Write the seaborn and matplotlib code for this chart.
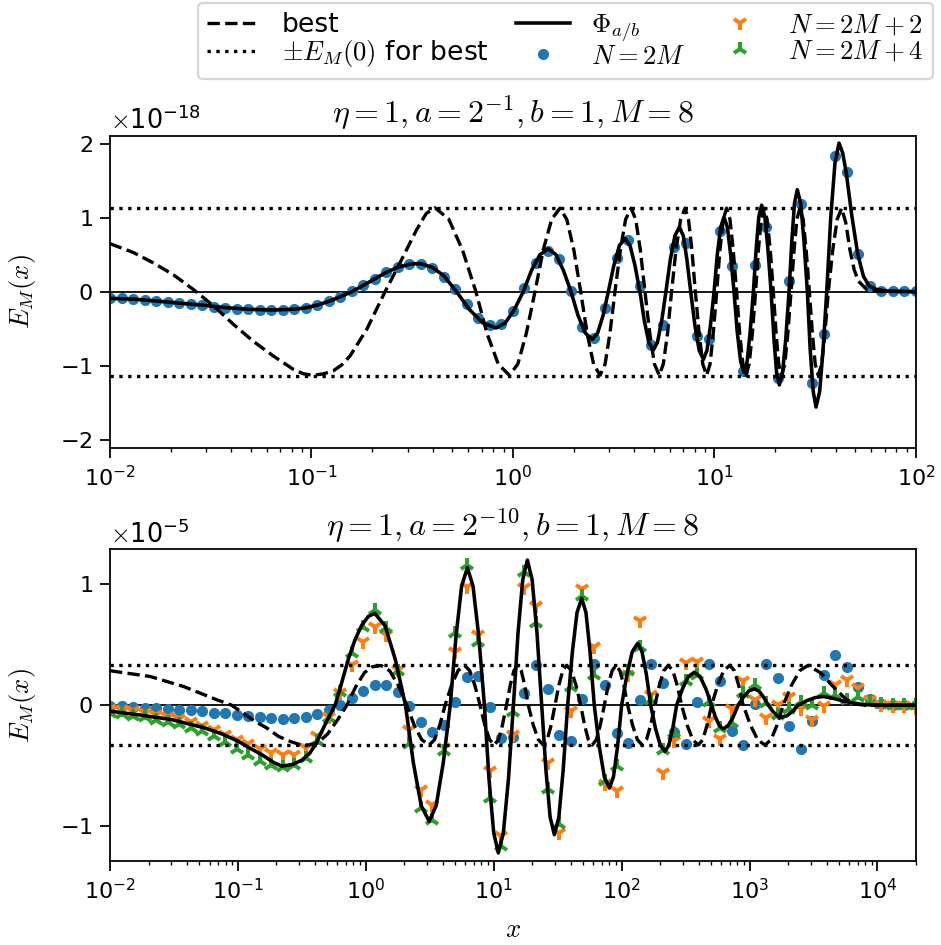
import numpy as np
import matplotlib
matplotlib.use("Agg")
import matplotlib.pyplot as plt
from matplotlib.ticker import NullFormatter
import seaborn as sns

plt.rcParams['mathtext.fontset'] = 'cm'
plt.rcParams['font.family'] = ['DejaVu Sans']
plt.rcParams['xtick.labelsize'] = 10
plt.rcParams['ytick.labelsize'] = 10
plt.rcParams['xtick.major.size'] = 4.3
plt.rcParams['ytick.major.size'] = 4.3
plt.rcParams['axes.labelsize'] = 12
plt.rcParams['axes.titlesize'] = 14.4

# ── Data ──────────────────────────────────────────────────────────────────────
# y values are in units of the axis offset (1e-18 top, 1e-5 bottom);
# curves are given as (log10 x, y) pairs.

TOP_SCALE = 1e-18
BOT_SCALE = 1e-5

top_grid = np.logspace(-2, 2, 71)
bot_grid = np.logspace(-2, np.log10(2e4), 71)

top_em0 = 1.135
bot_em0 = 0.331

top_n2m = [-0.090, -0.090, -0.104, -0.113, -0.131, -0.144, -0.158, -0.167, -0.180, -0.203,
           -0.221, -0.230, -0.239, -0.243, -0.248, -0.243, -0.234, -0.221, -0.176, -0.131,
           -0.068, 0.005, 0.086, 0.176, 0.266, 0.338, 0.374, 0.374, 0.324, 0.203,
           0.032, -0.162, -0.351, -0.450, -0.441, -0.266, 0.050, 0.387, 0.554, 0.437,
           0.014, -0.473, -0.626, -0.216, 0.459, 0.698, 0.077, -0.716, -0.455, 0.604,
           0.653, -0.599, -0.635, 0.815, 0.351, -1.072, 0.365, 0.869, -1.167, 0.149,
           1.185, -1.239, -0.572, 1.838, 1.617, 0.509, 0.077, 0.014, 0.010, 0.010, 0.010]

top_phi_lx = [-2.0, -1.886, -1.771, -1.657, -1.543, -1.429, -1.314, -1.2, -1.086, -1.029,
              -0.971, -0.914, -0.857, -0.8, -0.743, -0.686, -0.629, -0.571, -0.514, -0.486,
              -0.457, -0.4, -0.343,
              -0.280, -0.215, -0.149, -0.084, -0.039, 0.006, 0.051,
              0.092, 0.134, 0.175, 0.213, 0.250, 0.288,
              0.323, 0.359, 0.394, 0.420, 0.447, 0.473,
              0.501, 0.528, 0.556, 0.581, 0.605, 0.630,
              0.652, 0.674, 0.696, 0.717, 0.738, 0.759,
              0.781, 0.804, 0.826, 0.845, 0.863, 0.882,
              0.903, 0.924, 0.945, 0.963, 0.980, 0.998,
              1.014, 1.031, 1.047, 1.064, 1.080, 1.097,
              1.113, 1.130, 1.146, 1.162, 1.177, 1.193,
              1.207, 1.220, 1.234, 1.250, 1.265, 1.281,
              1.295, 1.308, 1.322, 1.338, 1.354, 1.370,
              1.384, 1.397, 1.411, 1.428, 1.444, 1.461,
              1.475, 1.490, 1.504, 1.522, 1.539, 1.557,
              1.577, 1.598, 1.618, 1.636, 1.654, 1.682, 1.711, 1.739, 1.768, 1.805,
              1.855, 2.0]
top_phi_y = [-0.09, -0.10, -0.125, -0.155, -0.18, -0.215, -0.237, -0.248, -0.236, -0.218,
             -0.18, -0.13, -0.068, 0.0, 0.085, 0.175, 0.262, 0.33, 0.37, 0.38,
             0.378, 0.33, 0.215,
             0.0, -0.245, -0.424, -0.49, -0.424, -0.245, 0.0,
             0.29, 0.502, 0.58, 0.502, 0.29, 0.0,
             -0.3225, -0.559, -0.645, -0.559, -0.3225, 0.0,
             0.36, 0.624, 0.72, 0.624, 0.36, 0.0,
             -0.395, -0.684, -0.79, -0.684, -0.395, 0.0,
             0.4375, 0.758, 0.875, 0.758, 0.4375, 0.0,
             -0.4575, -0.792, -0.915, -0.792, -0.4575, 0.0,
             0.505, 0.875, 1.01, 0.875, 0.505, 0.0,
             -0.545, -0.944, -1.09, -0.944, -0.545, 0.0,
             0.585, 1.013, 1.17, 1.013, 0.585, 0.0,
             -0.63, -1.091, -1.26, -1.091, -0.63, 0.0,
             0.69, 1.195, 1.38, 1.195, 0.69, 0.0,
             -0.78, -1.351, -1.56, -1.351, -0.78, 0.0,
             1.005, 1.741, 2.01, 1.88, 1.61, 1.02, 0.51, 0.21, 0.077, 0.03,
             0.01, 0.0]

top_best_lx = [-2.0, -1.884, -1.785, -1.686, -1.586, -1.487, -1.388, -1.289, -1.189, -1.090,
               -1.04, -0.991, -0.94, -0.892, -0.85, -0.809, -0.726, -0.635, -0.561, -0.478,
               -0.43, -0.387,
               -0.319, -0.251, -0.184,
               -0.129, -0.073, -0.018, 0.024, 0.066, 0.109,
               0.150, 0.192, 0.233, 0.267, 0.302, 0.336,
               0.368, 0.400, 0.432, 0.457, 0.481, 0.506,
               0.533, 0.559, 0.586, 0.609, 0.632, 0.655,
               0.679, 0.702, 0.726, 0.746, 0.767, 0.787,
               0.809, 0.832, 0.854, 0.871, 0.888, 0.905,
               0.924, 0.942, 0.961, 0.978, 0.994, 1.011,
               1.027, 1.044, 1.060, 1.077, 1.093, 1.110,
               1.125, 1.141, 1.156, 1.172, 1.188, 1.204,
               1.218, 1.232, 1.246, 1.261, 1.277, 1.292,
               1.306, 1.319, 1.333, 1.349, 1.364, 1.380,
               1.395, 1.409, 1.424, 1.440, 1.455, 1.471,
               1.486, 1.500, 1.515, 1.532, 1.548, 1.565,
               1.587, 1.609, 1.631, 1.652, 1.672, 1.693, 1.714, 1.755, 1.8, 2.0]
top_best_y = [0.65, 0.53, 0.39, 0.23, 0.03, -0.19, -0.44, -0.67, -0.87, -1.05,
              -1.11, -1.13, -1.11, -1.07, -0.99, -0.87, -0.51, 0.0, 0.39, 0.84,
              1.06, 1.135,
              0.983, 0.567, 0.0,
              -0.565, -0.979, -1.13, -0.979, -0.565, 0.0,
              0.565, 0.979, 1.13, 0.979, 0.565, 0.0,
              -0.565, -0.979, -1.13, -0.979, -0.565, 0.0,
              0.565, 0.979, 1.13, 0.979, 0.565, 0.0,
              -0.565, -0.979, -1.13, -0.979, -0.565, 0.0,
              0.565, 0.979, 1.13, 0.979, 0.565, 0.0,
              -0.565, -0.979, -1.13, -0.979, -0.565, 0.0,
              0.565, 0.979, 1.13, 0.979, 0.565, 0.0,
              -0.565, -0.979, -1.13, -0.979, -0.565, 0.0,
              0.565, 0.979, 1.13, 0.979, 0.565, 0.0,
              -0.565, -0.979, -1.13, -0.979, -0.565, 0.0,
              0.565, 0.979, 1.13, 0.979, 0.565, 0.0,
              -0.565, -0.979, -1.13, -0.979, -0.565, 0.0,
              0.565, 0.979, 1.13, 0.93, 0.57, 0.30, 0.144, 0.03, 0.005, 0.0]

bot_n2m = [-0.006, -0.011, -0.017, -0.022, -0.025, -0.030, -0.036, -0.041, -0.050, -0.061,
           -0.069, -0.083, -0.091, -0.099, -0.107, -0.113, -0.110, -0.100, -0.074, -0.039,
           0.000, 0.061, 0.121, 0.163, 0.165, 0.107, -0.008, -0.143, -0.223, -0.165,
           0.030, 0.229, 0.242, -0.014, -0.273, -0.262, 0.099, 0.333, 0.135, -0.245,
           -0.300, 0.052, 0.344, 0.168, -0.234, -0.311, 0.041, 0.344, 0.182, -0.226,
           -0.320, 0.030, 0.342, 0.196, -0.218, -0.328, 0.008, 0.339, 0.223, -0.176,
           -0.361, -0.129, 0.251, 0.416, 0.320, 0.154, 0.052, 0.008, 0.0, 0.0, 0.0]

bot_n2m2 = [-0.030, -0.044, -0.052, -0.066, -0.080, -0.099, -0.116, -0.140, -0.171, -0.207,
            -0.245, -0.287, -0.322, -0.361, -0.397, -0.410, -0.410, -0.355, -0.259, -0.100,
            0.099, 0.333, 0.526, 0.650, 0.580, 0.292, -0.204, -0.700, -0.824, -0.355,
            0.444, 0.980, 0.580, -0.548, -1.085, -0.245, 0.970, 0.820, -0.480, -1.060,
            -0.050, 0.960, 0.480, -0.650, -0.710, 0.250, 0.700, 0.080, -0.560, -0.300,
            0.350, 0.360, -0.130, -0.280, -0.030, 0.200, 0.040, -0.110, 0.000, 0.070,
            -0.030, -0.120, -0.010, 0.170, 0.210, 0.140, 0.040, 0.000, -0.010, -0.010, -0.020]

bot_n2m4 = [-0.066, -0.074, -0.088, -0.102, -0.121, -0.138, -0.157, -0.185, -0.218, -0.259,
            -0.306, -0.361, -0.410, -0.460, -0.493, -0.512, -0.499, -0.438, -0.300, -0.107,
            0.113, 0.430, 0.650, 0.790, 0.636, 0.284, -0.322, -0.850, -0.950, -0.383,
            0.595, 1.160, 0.526, -0.770, -1.170, -0.060, 1.100, 0.680, -0.690, -0.980,
            0.150, 0.900, 0.250, -0.630, -0.500, 0.280, 0.480, 0.040, -0.370, -0.230,
            0.200, 0.250, 0.030, -0.190, -0.150, 0.100, 0.170, 0.020, -0.080, -0.030,
            0.030, 0.000, 0.100, 0.080, 0.040, 0.070, 0.030, 0.010, 0.0, 0.0, 0.0]

bot_phi_lx = [-2.0, -1.776, -1.516, -1.255, -1.12, -0.995, -0.9, -0.8125, -0.72, -0.656,
              -0.57, -0.50, -0.44, -0.39, -0.357, -0.30,
              -0.24, -0.185, -0.137, -0.085, -0.033, 0.02, 0.07,
              0.15, 0.23, 0.31,
              0.372, 0.433, 0.495, 0.55, 0.605, 0.66,
              0.705, 0.749, 0.794, 0.838, 0.883, 0.927,
              0.963, 1.0, 1.036, 1.075, 1.115, 1.154,
              1.190, 1.227, 1.263, 1.300, 1.338, 1.375,
              1.408, 1.441, 1.474, 1.509, 1.543, 1.578,
              1.615, 1.651, 1.688, 1.721, 1.753, 1.786,
              1.825, 1.865, 1.904, 1.936, 1.968, 2.0,
              2.042, 2.083, 2.125, 2.159, 2.193, 2.227,
              2.264, 2.302, 2.339, 2.369, 2.400, 2.430,
              2.476, 2.522, 2.568, 2.613, 2.658, 2.703,
              2.733, 2.764, 2.794, 2.833, 2.872, 2.911,
              2.953, 2.994, 3.036, 3.073, 3.109, 3.146,
              3.181, 3.215, 3.25, 3.293, 3.337, 3.38,
              3.445, 3.511, 3.576, 3.66, 3.745, 3.87, 4.0, 4.301]
bot_phi_y = [-0.05, -0.08, -0.12, -0.19, -0.24, -0.30, -0.36, -0.41, -0.475, -0.505,
             -0.49, -0.455, -0.40, -0.32, -0.245, -0.12,
             0.0, 0.2, 0.38, 0.54, 0.66, 0.735, 0.76,
             0.658, 0.38, 0.0,
             -0.48, -0.832, -0.961, -0.832, -0.48, 0.0,
             0.569, 0.986, 1.138, 0.986, 0.569, 0.0,
             -0.612, -1.059, -1.223, -1.059, -0.612, 0.0,
             0.60, 1.04, 1.201, 1.04, 0.60, 0.0,
             -0.536, -0.928, -1.072, -0.928, -0.536, 0.0,
             0.442, 0.766, 0.884, 0.766, 0.442, 0.0,
             -0.343, -0.594, -0.686, -0.594, -0.343, 0.0,
             0.256, 0.443, 0.512, 0.443, 0.256, 0.0,
             -0.19, -0.332, -0.383, -0.332, -0.19, 0.0,
             0.137, 0.236, 0.273, 0.236, 0.137, 0.0,
             -0.098, -0.17, -0.196, -0.17, -0.098, 0.0,
             0.068, 0.117, 0.135, 0.117, 0.068, 0.0,
             -0.05, -0.087, -0.10, -0.087, -0.05, 0.0,
             0.036, 0.062, 0.072, 0.055, 0.03, 0.008, 0.0, 0.0]

bot_best_lx = [-2.0, -1.685, -1.424, -1.164, -1.05, -0.865, -0.773, -0.682, -0.591, -0.52,
               -0.448, -0.38, -0.30, -0.22, -0.148, -0.08, -0.01, 0.05, 0.12,
               0.187, 0.253, 0.32,
               0.378, 0.437, 0.495, 0.537, 0.578, 0.62,
               0.670, 0.721, 0.771, 0.812, 0.852, 0.893,
               0.930, 0.968, 1.005, 1.037, 1.068, 1.10,
               1.129, 1.158, 1.187, 1.215, 1.242, 1.27,
               1.309, 1.349, 1.388, 1.418, 1.449, 1.479,
               1.509, 1.540, 1.570, 1.607, 1.643, 1.68,
               1.71, 1.74, 1.77, 1.802, 1.833, 1.865,
               1.895, 1.926, 1.956, 1.986, 2.017, 2.047,
               2.085, 2.123, 2.161, 2.194, 2.227, 2.26,
               2.295, 2.330, 2.365, 2.400, 2.434, 2.469,
               2.512, 2.556, 2.599, 2.634, 2.668, 2.703,
               2.751, 2.798, 2.846, 2.881, 2.915, 2.95,
               3.007, 3.063, 3.12, 3.168, 3.215, 3.263,
               3.328, 3.393, 3.458, 3.56, 3.64, 3.745, 3.82, 3.9, 4.301]
bot_best_y = [0.285, 0.237, 0.154, 0.044, 0.0, -0.135, -0.19, -0.259, -0.30, -0.325,
              -0.33, -0.315, -0.24, -0.12, 0.0, 0.15, 0.27, 0.318, 0.328,
              0.284, 0.164, 0.0,
              -0.165, -0.286, -0.33, -0.286, -0.165, 0.0,
              0.165, 0.286, 0.33, 0.286, 0.165, 0.0,
              -0.165, -0.286, -0.33, -0.286, -0.165, 0.0,
              0.165, 0.286, 0.33, 0.286, 0.165, 0.0,
              -0.165, -0.286, -0.33, -0.286, -0.165, 0.0,
              0.165, 0.286, 0.33, 0.286, 0.165, 0.0,
              -0.165, -0.286, -0.33, -0.286, -0.165, 0.0,
              0.165, 0.286, 0.33, 0.286, 0.165, 0.0,
              -0.165, -0.286, -0.33, -0.286, -0.165, 0.0,
              0.165, 0.286, 0.33, 0.286, 0.165, 0.0,
              -0.165, -0.286, -0.33, -0.286, -0.165, 0.0,
              0.165, 0.286, 0.33, 0.286, 0.165, 0.0,
              -0.165, -0.286, -0.33, -0.286, -0.165, 0.0,
              0.165, 0.286, 0.33, 0.264, 0.168, 0.058, 0.01, 0.0, 0.0]

top_yticks = [-2, -1, 0, 1, 2]
bot_yticks = [-1, 0, 1]
top_xticks = [1e-2, 1e-1, 1e0, 1e1, 1e2]
bot_xticks = [1e-2, 1e-1, 1e0, 1e1, 1e2, 1e3, 1e4]

BLUE, ORANGE, GREEN = '#1f77b4', '#ff7f0e', '#2ca02c'


# ── Plotting ──────────────────────────────────────────────────────────────────

def draw_panel(ax, grid, markers, phi_lx, phi_y, best_lx, best_y, em0, scale,
               ylim, xticks, yticks, title):
    for label, vals, mk, col, ms, mew in markers:
        sns.lineplot(x=grid, y=np.asarray(vals) * scale, ax=ax, estimator=None,
                     marker=mk, linestyle='none', color=col, markersize=ms,
                     markeredgecolor=col, markeredgewidth=mew,
                     label=label, legend=False)

    ax.axhline(0, color='k', lw=0.8, zorder=1)
    ax.axhline(em0 * scale, color='k', ls=':', lw=1.5, label=r'$\pm E_M(0)$ for best')
    ax.axhline(-em0 * scale, color='k', ls=':', lw=1.5)

    sns.lineplot(x=10 ** np.asarray(best_lx), y=np.asarray(best_y) * scale, ax=ax,
                 estimator=None, sort=False, color='k', linestyle='--', lw=1.5,
                 label='best', legend=False)
    sns.lineplot(x=10 ** np.asarray(phi_lx), y=np.asarray(phi_y) * scale, ax=ax,
                 estimator=None, sort=False, color='k', lw=1.6,
                 label=r'$\Phi_{a/b}$', legend=False)

    ax.set_xscale('log')
    ax.set_xticks(xticks)
    ax.set_xlim(grid[0], grid[-1])
    ax.xaxis.set_minor_formatter(NullFormatter())
    ax.set_ylim(-ylim * scale, ylim * scale)
    ax.set_yticks(np.asarray(yticks) * scale)
    ax.ticklabel_format(axis='y', style='sci', scilimits=(0, 0), useMathText=True)
    ax.yaxis.get_offset_text().set_fontsize(11.5)
    ax.set_ylabel(r'$E_M(x)$')
    ax.yaxis.set_label_coords(-0.089, 0.5)
    ax.set_title(title)


fig = plt.figure(figsize=(941 / 160, 945 / 160), dpi=160)
ax_top = fig.add_axes([0.1169, 0.5262, 0.8565, 0.3302])
ax_bot = fig.add_axes([0.1169, 0.0889, 0.8565, 0.3298])

dot = (4.0, 1.0)
draw_panel(ax_top, top_grid,
           [(r'$N=2M$', top_n2m, 'o', BLUE, *dot)],
           top_phi_lx, top_phi_y, top_best_lx, top_best_y,
           top_em0, TOP_SCALE, 2.11, top_xticks, top_yticks,
           r'$\eta=1, a=2^{-1}, b=1, M=8$')
draw_panel(ax_bot, bot_grid,
           [(r'$N=2M$', bot_n2m, 'o', BLUE, *dot),
            (r'$N=2M+2$', bot_n2m2, '1', ORANGE, 6.5, 1.8),
            (r'$N=2M+4$', bot_n2m4, '2', GREEN, 6.5, 1.8)],
           bot_phi_lx, bot_phi_y, bot_best_lx, bot_best_y,
           bot_em0, BOT_SCALE, 1.29, bot_xticks, bot_yticks,
           r'$\eta=1, a=2^{-10}, b=1, M=8$')
ax_bot.set_xlabel(r'$x$', labelpad=6)

handles, labels = ax_bot.get_legend_handles_labels()
lookup = dict(zip(labels, handles))
order = ['best', r'$\pm E_M(0)$ for best', r'$\Phi_{a/b}$',
         r'$N=2M$', r'$N=2M+2$', r'$N=2M+4$']
fig.legend([lookup[k] for k in order], order, ncol=3, loc='upper right',
           bbox_to_anchor=(0.9915, 0.997), borderaxespad=0, fontsize=12,
           columnspacing=1.05, labelspacing=0.0, borderpad=0.35)

fig.savefig('out.png', dpi=160)
